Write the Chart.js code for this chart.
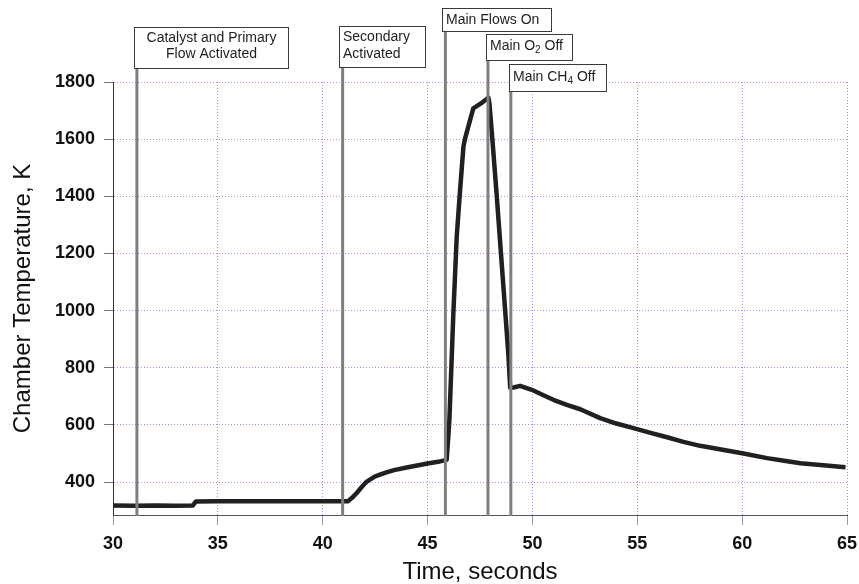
<!DOCTYPE html>
<html>
<head>
<meta charset="utf-8">
<title>Chamber Temperature</title>
<script src="https://cdn.jsdelivr.net/npm/chart.js@4.4.1/dist/chart.umd.min.js"></script>
<style>
  html, body { margin:0; padding:0; background:#fff; }
  #wrap { width:859px; height:584px; }
</style>
</head>
<body>
<div id="wrap"><canvas id="chart" width="859" height="584"></canvas></div>
<script>
// Chamber temperature trace
const timeSec = [
  30.0, 31.0, 32.0, 33.0, 33.8, 33.95, 35.0, 37.0, 39.0, 41.2,
  41.4, 41.62, 41.85, 42.1, 42.5, 43.0, 43.4, 44.0, 44.5, 45.0,
  45.5, 45.91, 45.99, 46.04, 46.23, 46.39, 46.55, 46.71, 46.79, 47.18,
  47.6, 47.9, 47.95, 48.1, 48.3, 48.5, 48.7, 48.85, 48.94, 49.1,
  49.41, 49.97, 50.5, 51.0, 51.64, 52.28, 53.23, 54.0, 54.82, 55.5,
  56.42, 57.2, 58.0, 59.0, 60.0, 61.19, 62.0, 62.78, 64.0, 64.93
];
const tempK = [
  318, 317, 318, 317, 318, 332, 333, 333, 333, 333,
  345, 362, 382, 402, 420, 433, 442, 451, 458, 465,
  471, 478, 560, 618, 991, 1259, 1422, 1574, 1603, 1708,
  1728, 1745, 1725, 1590, 1400, 1200, 1000, 850, 730, 731,
  737, 723, 705, 688, 670, 655, 624, 605, 589, 575,
  557, 541, 527, 514, 501, 484, 475, 466, 458, 452
];

const xTicks = [30, 35, 40, 45, 50, 55, 60, 65];
const yTicks = [400, 600, 800, 1000, 1200, 1400, 1600, 1800];

// Test events (vertical markers); "_" marks a subscript character
const eventTimes = [31.14, 40.95, 45.85, 47.88, 48.97];
const eventLabels = [
  ['Catalyst and Primary', 'Flow Activated'],
  ['Secondary', 'Activated'],
  ['Main Flows On'],
  ['Main O_2 Off'],
  ['Main CH_4 Off']
];

// label box layout (pixels), one per event
const boxStyle = [
  { top:27, h:41, w:154, dx:-3, align:'center', lines:[38, 54] },
  { top:26, h:41, w:86,  dx:-4, align:'left',   lines:[37, 54] },
  { top:8,  h:23, w:109, dx:-3, align:'left',   lines:[20] },
  { top:34, h:26, w:86,  dx:-2, align:'left',   lines:[46] },
  { top:64, h:27, w:97,  dx:-2, align:'left',   lines:[77] }
];

const FONT = '"Liberation Sans", Arial, sans-serif';

function parseRich(str){
  const parts = [];
  let i = 0, cur = '';
  while (i < str.length){
    if (str[i] === '_' && i+1 < str.length){
      if (cur) parts.push({ t:cur, sub:false });
      parts.push({ t:str[i+1], sub:true });
      cur = ''; i += 2; continue;
    }
    cur += str[i]; i++;
  }
  if (cur) parts.push({ t:cur, sub:false });
  return parts;
}

function richWidth(ctx, parts){
  let w = 0;
  parts.forEach(p => {
    ctx.font = (p.sub ? '10px ' : '14px ') + FONT;
    w += ctx.measureText(p.t).width;
  });
  return w;
}

function drawRich(ctx, parts, x, y){
  parts.forEach(p => {
    ctx.font = (p.sub ? '10px ' : '14px ') + FONT;
    ctx.fillText(p.t, x, p.sub ? y + 4 : y);
    x += ctx.measureText(p.t).width;
  });
}

const eventPlugin = {
  id: 'eventMarkers',
  afterDatasetsDraw(chart){
    const ctx = chart.ctx;
    const xs = chart.scales.x;
    const area = chart.chartArea;
    ctx.save();
    eventTimes.forEach((t, i) => {
      const px = xs.getPixelForValue(t);
      const st = boxStyle[i];
      // marker line
      ctx.strokeStyle = '#7f7f7f';
      ctx.lineWidth = 3;
      ctx.beginPath();
      ctx.moveTo(px, st.top + st.h);
      ctx.lineTo(px, area.bottom + 1);
      ctx.stroke();
      // label box
      const bx = Math.round(px + st.dx) + 0.5;
      const by = st.top + 0.5;
      ctx.fillStyle = '#ffffff';
      ctx.fillRect(bx, by, st.w, st.h);
      ctx.strokeStyle = '#3a3a3a';
      ctx.lineWidth = 1;
      ctx.strokeRect(bx, by, st.w, st.h);
      ctx.fillStyle = '#1e1e1e';
      ctx.textBaseline = 'middle';
      ctx.textAlign = 'left';
      eventLabels[i].forEach((line, k) => {
        const parts = parseRich(line);
        const w = richWidth(ctx, parts);
        const tx = st.align === 'center' ? bx + (st.w - w) / 2 : bx + 3.5;
        drawRich(ctx, parts, tx, st.lines[k]);
      });
    });
    ctx.restore();
  }
};

const points = timeSec.map((t, i) => ({ x: t, y: tempK[i] }));
const plainTick = v => String(v);

new Chart(document.getElementById('chart'), {
  type: 'line',
  data: {
    datasets: [{
      label: 'Chamber Temperature',
      data: points,
      borderColor: '#202020',
      borderWidth: 4.5,
      pointRadius: 0,
      tension: 0,
      fill: false,
      borderJoinStyle: 'round'
    }]
  },
  options: {
    responsive: false,
    animation: false,
    devicePixelRatio: 1,
    layout: { padding: { left: 0, right: 12, top: 82, bottom: 0 } },
    plugins: { legend: { display: false }, tooltip: { enabled: false } },
    scales: {
      x: {
        type: 'linear',
        min: 30, max: 65,
        afterBuildTicks: s => { s.ticks = xTicks.map(v => ({ value: v })); },
        afterFit: s => { s.height = 69; s.paddingLeft = 0; s.paddingRight = 0; },
        grid: { color: 'rgba(80,80,255,0.6)', tickColor: '#9a9aa8', tickLength: 10, tickBorderDash: [] },
        border: { display: true, color: '#555', width: 1, dash: [1, 2] },
        ticks: { color: '#111', font: { family: FONT, size: 18, weight: 'bold' }, padding: 8, maxRotation: 0, callback: plainTick },
        title: { display: true, text: 'Time, seconds', color: '#111', font: { family: FONT, size: 24, lineHeight: 1 }, padding: { top: 0, bottom: 0 } }
      },
      y: {
        type: 'linear',
        min: 285, max: 1800,
        afterBuildTicks: s => { s.ticks = yTicks.map(v => ({ value: v })); },
        afterFit: s => { s.width = 113; s.paddingTop = 0; s.paddingBottom = 0; },
        grid: { color: 'rgba(80,80,255,0.6)', tickColor: '#777', tickLength: 9, tickBorderDash: [] },
        border: { display: true, color: '#333', width: 1, dash: [1, 2] },
        ticks: { color: '#111', font: { family: FONT, size: 18, weight: 'bold' }, padding: 9, callback: plainTick },
        title: { display: true, text: 'Chamber Temperature, K', color: '#111', font: { family: FONT, size: 24 }, padding: { top: 9, bottom: 0 } }
      }
    }
  },
  plugins: [eventPlugin]
});
</script>
</body>
</html>
